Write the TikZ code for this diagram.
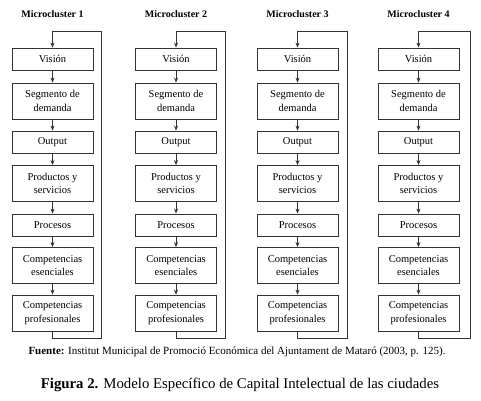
\documentclass[tikz,border=0pt]{standalone}
\usepackage{fontspec}
\setmainfont{Liberation Serif}
\usetikzlibrary{arrows.meta}
\begin{document}
\begin{tikzpicture}[x=1pt,y=-1pt,
  box/.style={draw=black!80, line width=0.8pt, minimum width=81pt, align=center, inner sep=0pt,
    font=\fontsize{10.5}{13.5}\selectfont},
  onebox/.style={box, minimum height=22pt},
  twobox/.style={box, minimum height=36pt},
  arr/.style={-{Stealth[length=5pt,width=4pt]}, line width=0.8pt, draw=black!80},
  title/.style={font=\fontsize{10}{12}\selectfont\bfseries},
]
\useasboundingbox (0,0) rectangle (481,400);
\foreach \c/\x/\xr in {1/52.5/101, 2/176/225, 3/297.5/347, 4/418.5/470}{
  \node[title] (t\c) at (\x,14) {Microcluster \c};
  \node[onebox] (v\c) at (\x,59) {Visión};
  \node[twobox] (s\c) at (\x,101) {Segmento de\\demanda};
  \node[onebox] (o\c) at (\x,142) {Output};
  \node[twobox] (ps\c) at (\x,183.5) {Productos y\\servicios};
  \node[onebox] (pr\c) at (\x,225) {Procesos};
  \node[twobox] (ce\c) at (\x,265.5) {Competencias\\esenciales};
  \node[twobox] (cp\c) at (\x,313) {Competencias\\profesionales};
  \draw[arr] (v\c) -- (s\c);
  \draw[arr] (s\c) -- (o\c);
  \draw[arr] (o\c) -- (ps\c);
  \draw[arr] (ps\c) -- (pr\c);
  \draw[arr] (pr\c) -- (ce\c);
  \draw[arr] (ce\c) -- (cp\c);
  \coordinate (rb\c) at (\xr,338);
  \coordinate (rt\c) at (\xr,31);
  \draw[arr] (cp\c.south) |- (rb\c) -- (rt\c) -| (v\c.north);
}
\node[font=\fontsize{11}{13}\selectfont] (fuente) at (237,352)
  {\textbf{Fuente:} Institut Municipal de Promoció Económica del Ajuntament de Mataró (2003, p. 125).};
\node[font=\fontsize{14.8}{17}\selectfont] (fig) at (240,385)
  {\textbf{Figura 2.} Modelo Específico de Capital Intelectual de las ciudades};
\end{tikzpicture}
\end{document}
